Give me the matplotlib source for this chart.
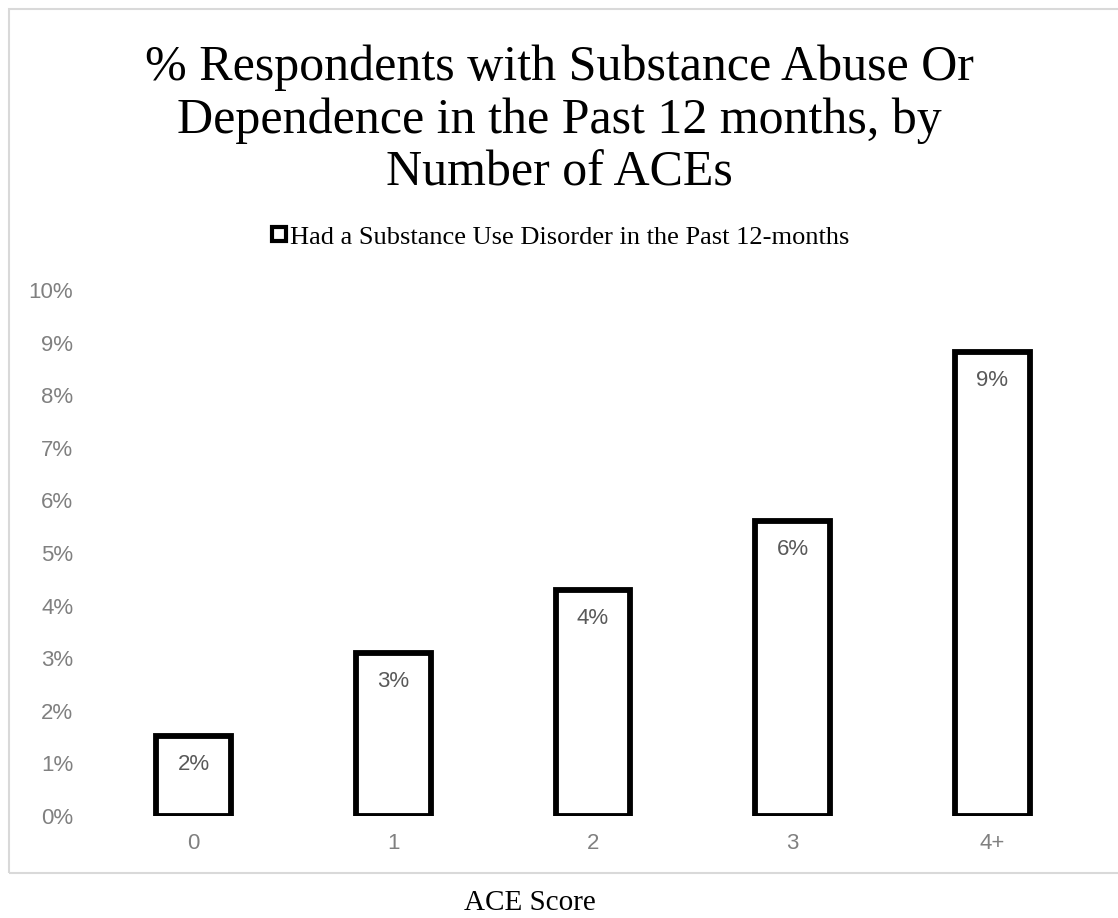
import matplotlib
matplotlib.use("Agg")
import matplotlib.pyplot as plt
from matplotlib.patches import Rectangle
from matplotlib.lines import Line2D

# ACE score categories and share of respondents with a substance use disorder (%)
categories = ["0", "1", "2", "3", "4+"]
values = [1.52, 3.10, 4.30, 5.61, 8.82]
y_ticks = list(range(0, 11))
y_tick_labels = [f"{t}%" for t in y_ticks]
title_lines = ["% Respondents with Substance Abuse Or",
               "Dependence in the Past 12 months, by",
               "Number of ACEs"]
series_name = "Had a Substance Use Disorder in the Past 12-months"

W, H = 1118, 918
fig = plt.figure(figsize=(W / 100, H / 100), dpi=100)
fig.patch.set_facecolor("white")

def fx(px):
    return px / W

def fy(py):
    return 1 - py / H

# light grey chart frame (right edge runs off the canvas)
frame = Rectangle((fx(9), fy(873)), fx(1130) - fx(9), fy(9) - fy(873),
                  transform=fig.transFigure, fill=False, edgecolor="#d9d9d9",
                  linewidth=1.5)
fig.patches.append(frame)

serif = "Liberation Serif"
sans = "Liberation Sans"

for i, line in enumerate(title_lines):
    fig.text(0.5, fy(80 + 53 * i), line, ha="center", va="baseline",
             fontsize=36, family=serif, color="black")

# plot area
left, right, bottom, top = 94, 1092, 816, 290
ax = fig.add_axes([fx(left), fy(bottom), fx(right) - fx(left), fy(top) - fy(bottom)])
x = list(range(len(categories)))
ax.bar(x, values, width=0.375, facecolor="white", edgecolor="black", linewidth=4.2,
       label=series_name)
ax.set_xlim(-0.5, len(categories) - 0.5)
ax.set_ylim(0, 10)
ax.set_yticks(y_ticks)
ax.set_yticklabels(y_tick_labels)
ax.set_xticks(x)
ax.set_xticklabels(categories)
for s in ax.spines.values():
    s.set_visible(False)
ax.tick_params(length=0, labelcolor="#808080", labelsize=16)
ax.tick_params(axis="x", pad=12)
ax.tick_params(axis="y", pad=15)
for lab in ax.get_xticklabels() + ax.get_yticklabels():
    lab.set_family(sans)

for xi, v in zip(x, values):
    ax.annotate(f"{v:.0f}%", (xi, v), xytext=(0, -13), textcoords="offset points",
                ha="center", va="top", fontsize=16, family=sans, color="#595959")

handle = Line2D([], [], marker="s", linestyle="none", markersize=10,
                markerfacecolor="white", markeredgecolor="black", markeredgewidth=3)
fig.legend([handle], [series_name],
           loc="center", bbox_to_anchor=(0.5, fy(237)), frameon=False,
           prop={"family": serif, "size": 19}, handletextpad=0.0, handlelength=0.8)

fig.text(fx(530), fy(903), "ACE Score", ha="center", va="center", fontsize=21,
         family=serif, color="black")

fig.savefig("out.png", dpi=100, facecolor="white")
